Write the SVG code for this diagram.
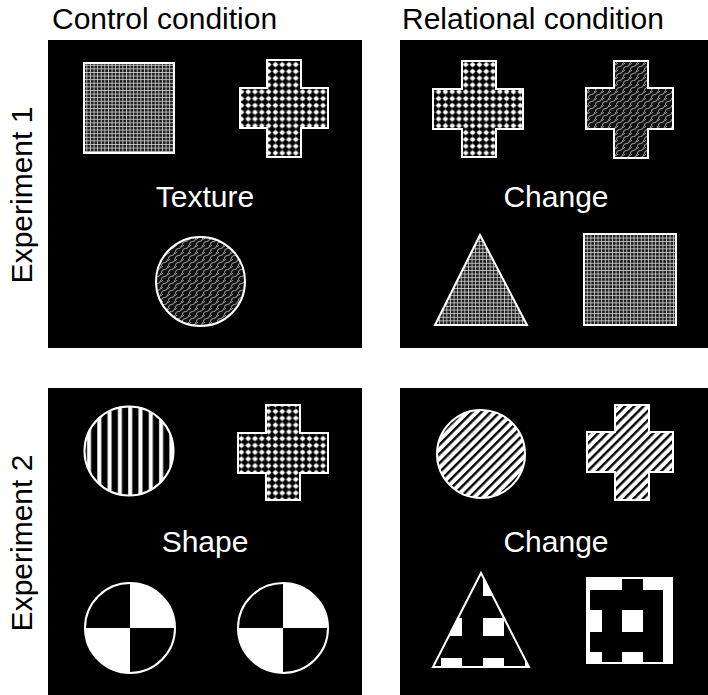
<svg xmlns="http://www.w3.org/2000/svg" width="708" height="695" viewBox="0 0 708 695">
<style>
  .t { font-family: "Liberation Sans", Arial, sans-serif; font-size: 30px; }
  .lbl { fill: #000; }
  .w { fill: #fff; text-anchor: middle; }
  .panel { fill: #000; }
  .ol { stroke: #fff; stroke-width: 2; }
  .blk { fill: #000; }
</style>
<defs>
  <pattern id="fineGrid" width="3.6" height="3.6" patternUnits="userSpaceOnUse">
    <rect width="3.6" height="3.6" fill="#222"/>
    <path d="M0.4,0 V3.6 M0,0.4 H3.6" stroke="#ddd" stroke-width="0.8"/>
  </pattern>
  <pattern id="dots" width="6.8" height="6.8" patternUnits="userSpaceOnUse">
    <rect width="6.8" height="6.8" fill="#000"/>
    <path d="M3.4,0 V6.8 M0,3.4 H6.8" stroke="#555" stroke-width="0.8"/>
    <circle cx="3.4" cy="3.4" r="2.3" fill="#fff"/>
  </pattern>
  <pattern id="weave" width="7" height="7" patternUnits="userSpaceOnUse">
    <rect width="7" height="7" fill="#111"/>
    <path d="M0,7 Q1,3 3.5,3.5 T7,0 M-1,3 Q0,1 2,0" fill="none" stroke="#aaa" stroke-width="1"/>
  </pattern>
  <pattern id="vstripes" x="84" width="10.3" height="10" patternUnits="userSpaceOnUse">
    <rect width="10.3" height="10" fill="#000"/>
    <rect x="3" width="4" height="10" fill="#fff"/>
  </pattern>
  <pattern id="dstripes" width="6.5" height="6.5" patternUnits="userSpaceOnUse" patternTransform="rotate(45)">
    <rect width="6.5" height="6.5" fill="#fff"/>
    <rect width="2.4" height="6.5" fill="#000"/>
  </pattern>
  <pattern id="blocksTri" x="483" y="618" width="42" height="40" patternUnits="userSpaceOnUse">
    <rect width="42" height="40" fill="#000"/>
    <rect width="21" height="18" fill="#fff"/>
  </pattern>
  <clipPath id="sqClip"><rect x="587" y="578" width="85" height="85"/></clipPath>
</defs>

<g id="titles">
  <text class="t lbl" x="52" y="29">Control condition</text>
  <text class="t lbl" x="402" y="29">Relational condition</text>
  <text class="t lbl" transform="translate(32,195) rotate(-90)" text-anchor="middle">Experiment 1</text>
  <text class="t lbl" transform="translate(32,543) rotate(-90)" text-anchor="middle">Experiment 2</text>
</g>

<g id="panel-exp1-control">
  <rect class="panel" x="48" y="40" width="314" height="308"/>
  <rect class="ol" x="84" y="63" width="90" height="90" fill="url(#fineGrid)"/>
  <path class="ol" d="M267,60 H301 V88 H328 V128 H301 V157 H267 V128 H240 V88 H267 Z" fill="url(#dots)"/>
  <circle class="ol" cx="200.5" cy="281.5" r="44.5" fill="url(#weave)"/>
  <text class="t w" x="205" y="207">Texture</text>
</g>

<g id="panel-exp1-relational">
  <rect class="panel" x="400" y="40" width="308" height="308"/>
  <path class="ol" d="M462,61 H496 V89 H523 V129 H496 V157 H462 V129 H433 V89 H462 Z" fill="url(#dots)"/>
  <path class="ol" d="M614,61 H648 V88 H673 V129 H648 V158 H614 V129 H586 V88 H614 Z" fill="url(#weave)"/>
  <path class="ol" d="M480,235 L527,325 H435 Z" fill="url(#fineGrid)"/>
  <rect class="ol" x="584" y="234" width="92" height="91" fill="url(#fineGrid)"/>
  <text class="t w" x="556" y="207">Change</text>
</g>

<g id="panel-exp2-control">
  <rect class="panel" x="48" y="388" width="314" height="307"/>
  <circle class="ol" cx="129" cy="451" r="44.5" fill="url(#vstripes)"/>
  <path class="ol" d="M266,405 H300 V433 H328 V473 H300 V500 H266 V473 H238 V433 H266 Z" fill="url(#dots)"/>
  <g id="quad-left">
    <path d="M130,628 V583 A45,45 0 0 1 175,628 Z M130,628 V673 A45,45 0 0 1 85,628 Z" fill="#fff"/>
    <circle class="ol" cx="130" cy="628" r="45" fill="none"/>
  </g>
  <g id="quad-right">
    <path d="M283,628 V583 A45,45 0 0 1 328,628 Z M283,628 V673 A45,45 0 0 1 238,628 Z" fill="#fff"/>
    <circle class="ol" cx="283" cy="628" r="45" fill="none"/>
  </g>
  <text class="t w" x="205" y="552">Shape</text>
</g>

<g id="panel-exp2-relational">
  <rect class="panel" x="400" y="388" width="308" height="307"/>
  <circle class="ol" cx="481" cy="454" r="44" fill="url(#dstripes)"/>
  <path class="ol" d="M615,405 H649 V432 H673 V472 H649 V500 H615 V472 H587 V432 H615 Z" fill="url(#dstripes)"/>
  <path class="ol" d="M481,573 L529,667 H433 Z" fill="url(#blocksTri)"/>
  <g id="square-blocks">
    <rect x="587" y="578" width="85" height="85" fill="#fff"/>
    <g clip-path="url(#sqClip)">
      <rect class="blk" x="590" y="590" width="73" height="20"/>
      <rect class="blk" x="590" y="632" width="73" height="20"/>
      <rect class="blk" x="602" y="610" width="20" height="22"/>
      <rect class="blk" x="643" y="610" width="20" height="22"/>
      <rect class="blk" x="602" y="652" width="20" height="11"/>
      <rect class="blk" x="643" y="652" width="20" height="11"/>
      <rect class="blk" x="622" y="578" width="21" height="12"/>
    </g>
    <rect class="ol" x="587" y="578" width="85" height="85" fill="none"/>
  </g>
  <text class="t w" x="556" y="552">Change</text>
</g>
</svg>
